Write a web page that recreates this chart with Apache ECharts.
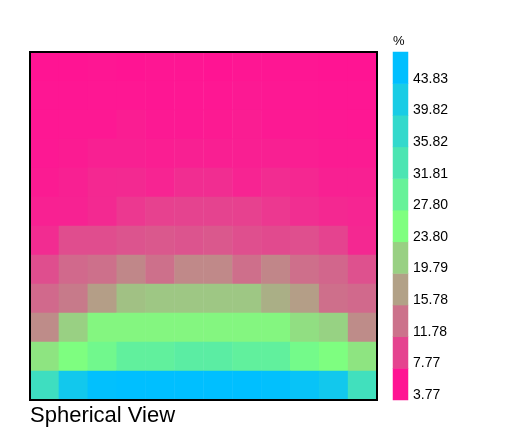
<!DOCTYPE html>
<html>
<head>
<meta charset="utf-8">
<script src="https://cdn.jsdelivr.net/npm/echarts@6/dist/echarts.min.js"></script>
<style>html,body{margin:0;padding:0;background:#fff;}#c{width:514px;height:443px;}</style>
</head>
<body>
<div id="c"></div>
<script>
// Heatmap values (%), rows from top to bottom, 12 columns each
const row0  = [3.8, 3.8, 3.9, 3.8, 3.9, 3.9, 3.8, 3.9, 3.9, 3.9, 3.8, 3.8];
const row1  = [3.9, 3.9, 4.0, 4.0, 3.9, 4.0, 4.0, 4.2, 4.1, 4.0, 3.9, 3.9];
const row2  = [4.0, 4.1, 4.1, 4.5, 4.2, 4.2, 4.3, 4.5, 4.2, 4.3, 4.1, 4.0];
const row3  = [4.1, 4.4, 4.8, 4.8, 4.6, 4.8, 4.7, 4.7, 4.8, 4.6, 4.4, 4.4];
const row4  = [4.4, 4.8, 5.5, 5.6, 5.1, 5.9, 5.9, 5.1, 5.8, 5.4, 4.8, 4.8];
const row5  = [4.9, 5.0, 5.6, 6.8, 7.6, 7.8, 7.8, 7.6, 6.8, 6.0, 5.5, 5.2];
const row6  = [5.8, 8.6, 8.6, 9.2, 9.6, 9.2, 9.6, 8.8, 8.4, 8.8, 7.8, 5.5];
const row7  = [8.7, 11.0, 11.6, 13.6, 11.6, 13.7, 13.7, 11.5, 13.5, 11.5, 10.8, 9.0];
const row8  = [11.0, 12.5, 15.5, 18.5, 19.0, 19.0, 19.0, 19.0, 17.0, 15.5, 11.5, 11.0];
const row9  = [14.0, 19.8, 23.0, 23.0, 23.0, 23.0, 23.0, 23.0, 23.0, 21.0, 20.0, 14.0];
const row10 = [21.5, 24.0, 26.0, 28.5, 28.5, 29.5, 29.5, 28.5, 28.5, 25.5, 24.0, 21.5];
const row11 = [34.0, 41.0, 43.5, 43.8, 43.8, 43.8, 43.8, 43.8, 43.5, 42.5, 41.0, 33.5];
const rows = [row0, row1, row2, row3, row4, row5, row6, row7, row8, row9, row10, row11];

const colCats = ['1','2','3','4','5','6','7','8','9','10','11','12'];
const rowCats = ['1','2','3','4','5','6','7','8','9','10','11','12'];

// Colour bar tick labels (bottom to top)
const barTicks = [3.77, 7.77, 11.78, 15.78, 19.79, 23.80, 27.80, 31.81, 35.82, 39.82, 43.83];
const barLabels = ['3.77','7.77','11.78','15.78','19.79','23.80','27.80','31.81','35.82','39.82','43.83'];
const valueMin = 3.77, valueMax = 43.83;
const unitLabel = '%';
const titleText = 'Spherical View';

const heatData = [];
rows.forEach((r, ri) => r.forEach((v, ci) => heatData.push([ci, ri, v])));
const barData = barTicks.map((v, i) => [0, i, v]);

const chart = echarts.init(document.getElementById('c'), null, {renderer: 'canvas'});
const font = '"Liberation Sans", Arial, sans-serif';
chart.setOption({
  animation: false,
  backgroundColor: '#ffffff',
  title: {
    text: titleText, left: 30, top: 405, padding: 0,
    textStyle: {fontFamily: font, fontSize: 22, fontWeight: 'normal', color: '#000'}
  },
  graphic: [{
    type: 'text', left: 393, top: 35,
    style: {text: unitLabel, font: '13px ' + font, fill: '#000'}
  }],
  grid: [
    {left: 30, top: 52, width: 347, height: 348, show: true, borderColor: '#000', borderWidth: 2, backgroundColor: 'transparent', z: 5},
    {left: 393, top: 52, width: 15, height: 348}
  ],
  xAxis: [
    {type: 'category', data: colCats, gridIndex: 0, show: false},
    {type: 'category', data: ['c'], gridIndex: 1, show: false}
  ],
  yAxis: [
    {type: 'category', data: rowCats, gridIndex: 0, inverse: true, show: false},
    {type: 'category', data: barLabels, gridIndex: 1, position: 'right',
     axisLine: {show: false}, axisTick: {show: false},
     axisLabel: {margin: 5, color: '#000', fontFamily: font, fontSize: 14, verticalAlign: 'top', padding: [4, 0, 0, 0]}}
  ],
  visualMap: {
    type: 'continuous', show: false, min: valueMin, max: valueMax, dimension: 2,
    seriesIndex: [0, 1],
    inRange: {color: ['#FF1493', '#7FFF7F', '#00BFFF']}
  },
  series: [
    {type: 'heatmap', xAxisIndex: 0, yAxisIndex: 0, data: heatData, itemStyle: {borderWidth: 0}, emphasis: {disabled: true}},
    {type: 'heatmap', xAxisIndex: 1, yAxisIndex: 1, data: barData, itemStyle: {borderWidth: 0}, emphasis: {disabled: true}}
  ]
});
</script>
</body>
</html>
